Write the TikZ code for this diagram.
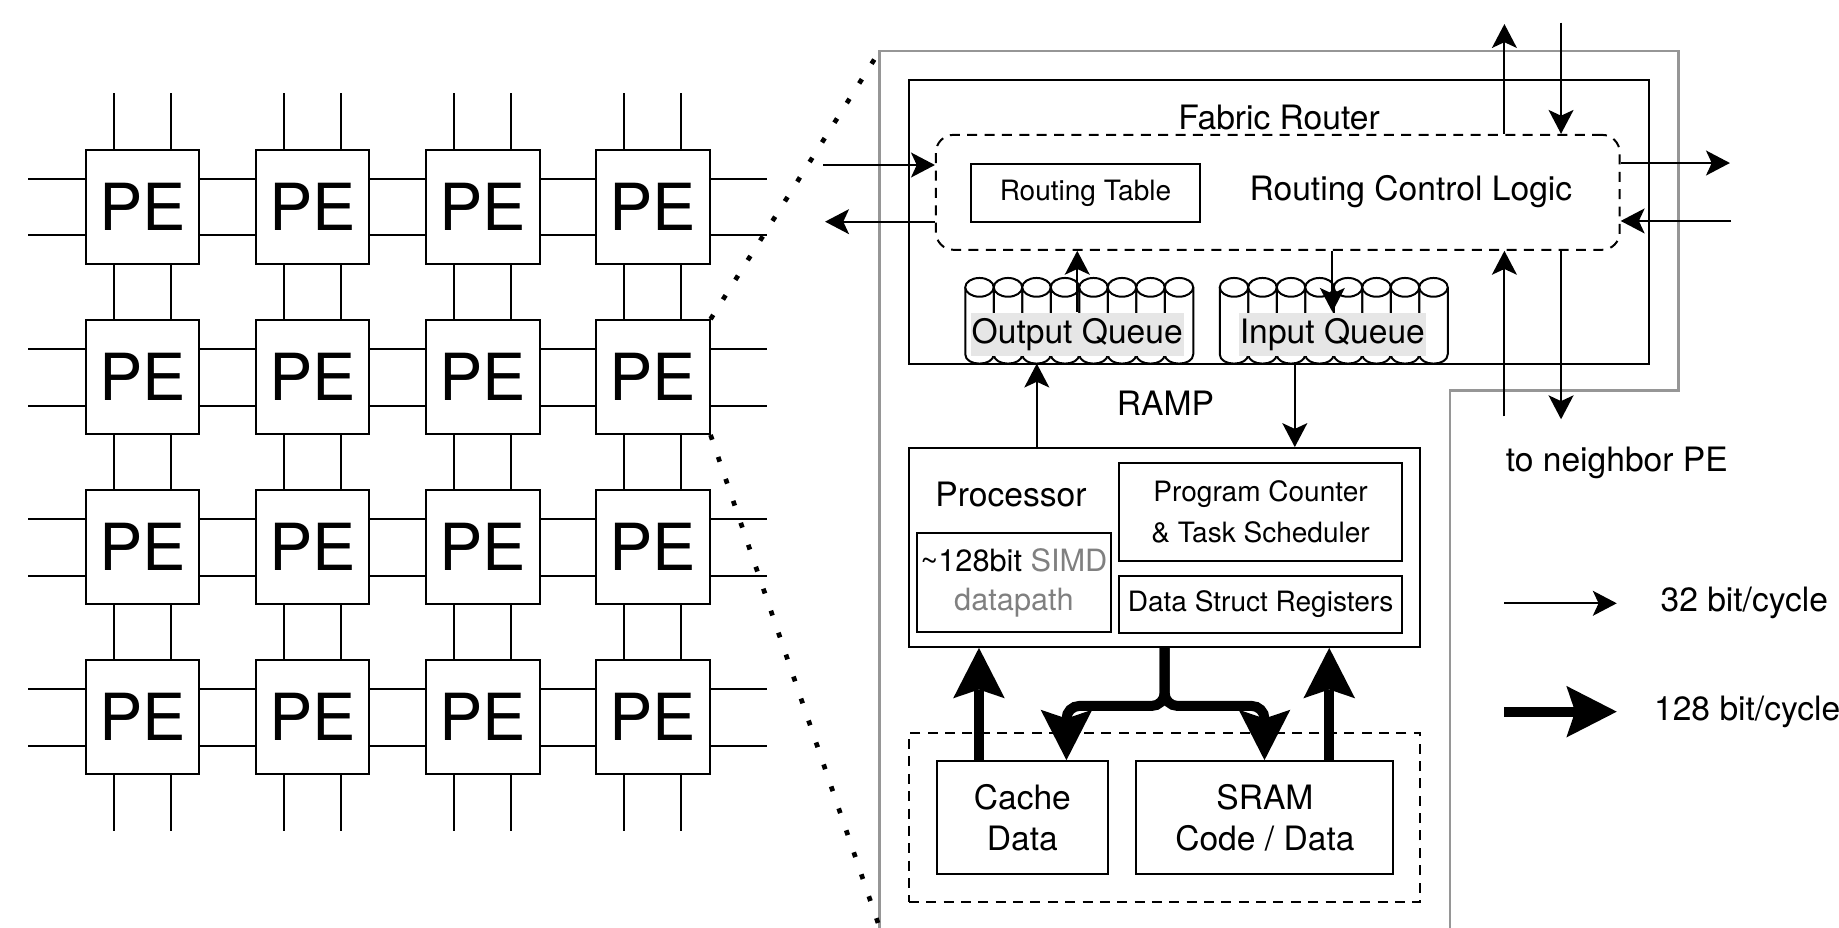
\documentclass[tikz,border=0pt]{standalone}
\usepackage{fontspec}
\setmainfont{TeX Gyre Heros}
\usepackage{tikz}
\usetikzlibrary{arrows.meta, positioning, calc}
\definecolor{tilegray}{RGB}{150, 150, 150}
\definecolor{queuefill}{RGB}{230, 230, 230}
\definecolor{dimtext}{RGB}{128, 128, 128}

\begin{document}
\begin{tikzpicture}[
    x=0.2mm, y=-0.2mm, line width=0.34mm,
    txt/.style={inner sep=0pt, align=center, font=\fontsize{16.3}{19.8}\selectfont},
    pe/.style={rectangle, draw, fill=white, inner sep=0pt, minimum size=19.4mm, font=\fontsize{31.5}{36}\selectfont},
    block/.style={rectangle, draw, inner sep=0pt, align=center, font=\fontsize{16.3}{19.8}\selectfont},
    subblock/.style={block, font=\fontsize{13.6}{20.2}\selectfont},
    dashedbox/.style={rectangle, draw, dash pattern=on 1.7mm off 1.26mm},
    qlabel/.style={fill=queuefill, inner xsep=0.2mm, inner ysep=0pt, minimum height=7.3mm, font=\fontsize{16.3}{19.8}\selectfont},
    arrow/.style={-{Stealth[length=4.1mm, width=4.3mm, inset=1mm, line width=0pt]}},
    fat/.style={line width=1.7mm, -{Stealth[length=8.6mm, width=8.8mm, inset=1.5mm, line width=0pt]}},
    zoomline/.style={line width=0.8mm, dash pattern=on 0.86mm off 3.1mm}
]
    \useasboundingbox (0,0) rectangle (1568,791);

    \foreach \r in {1,...,4} {
        \foreach \c in {1,...,4} {
            \node (pe-\r-\c) [pe] at ({121.5+145*(\c-1)}, {176.5+145*(\r-1)}) {PE};
            \foreach \d in {-24.25, 24.25} {
                \draw ($(pe-\r-\c.north)+(\d,0)$) -- ++(0,-48);
                \draw ($(pe-\r-\c.south)+(\d,0)$) -- ++(0,48);
                \draw ($(pe-\r-\c.west)+(0,\d)$) -- ++(-48,0);
                \draw ($(pe-\r-\c.east)+(0,\d)$) -- ++(48,0);
            }
        }
    }

    \coordinate (tile-nw) at (750,43.5);
    \coordinate (tile-sw) at (750,791);
    \draw [tilegray, line width=0.42mm] (tile-sw) -- (tile-nw) -- (1431,43.5) -- (1431,333) -- (1236.5,333) -- (1236.5,791);
    \draw [zoomline] (pe-2-4.north east) -- (tile-nw);
    \draw [zoomline] (pe-2-4.south east) -- (tile-sw);

    \foreach \qx in {823, 1040} {
        \foreach \k in {0,...,7} {
            \pgfmathsetmacro{\cx}{\qx+24.3*\k}
            \draw [fill=white] (\cx,245) -- (\cx,302) .. controls (\cx,312.7) and (\cx+24.3,312.7) .. (\cx+24.3,302) -- (\cx+24.3,245);
            \draw [fill=white] (\cx+12.15,245) ellipse [x radius=12.15, y radius=8];
        }
    }
    \node (outq) [qlabel] at (918.5,285) {Output Queue};
    \node (inq) [qlabel] at (1136,285) {Input Queue};

    \node (router) [block, minimum width=126.2mm, minimum height=48.4mm] at (1090.5,189) {};
    \node (router-title) [txt] at (1090.5,100) {Fabric Router};
    \node (logic) [dashedbox, rounded corners=3mm, minimum width=116.6mm, minimum height=19.6mm] at (1089.5,164) {};
    \node (rtable) [subblock, minimum width=39mm, minimum height=9.8mm] at (925.5,164.5) {Routing Table};
    \node (logic-title) [txt] at (1203,163) {Routing Control Logic};
    \node (ramp) [txt] at (993.7,344) {RAMP};

    \node (proc) [block, minimum width=87.2mm, minimum height=33.9mm] at (993,466.8) {};
    \node (proc-title) [txt] at (862,422) {Processor};
    \node (simd) [block, minimum width=33mm, minimum height=16.9mm, font=\fontsize{14.9}{18.5}\selectfont] at (864.5,497) {\textasciitilde128bit \textcolor{dimtext}{SIMD}\\\textcolor{dimtext}{datapath}};
    \node (pc) [subblock, minimum width=48.3mm, minimum height=16.7mm] at (1074.8,436.3) {Program Counter\\\& Task Scheduler};
    \node (dsr) [subblock, minimum width=48.3mm, minimum height=9.7mm] at (1074.8,515.3) {Data Struct Registers};

    \node (mem) [dashedbox, minimum width=87.2mm, minimum height=28.8mm] at (993,697) {};
    \node (cache) [block, minimum width=29.1mm, minimum height=19.2mm] at (871.7,697) {Cache\\Data};
    \node (sram) [block, minimum width=43.8mm, minimum height=19.2mm] at (1078.5,697) {SRAM\\Code / Data};

    \coordinate (w-in) at (702,140.7);
    \coordinate (w-out) at (703.5,189);
    \coordinate (e-out) at (1475,139);
    \coordinate (e-in) at (1476,188.4);
    \coordinate (n-out) at (1282.7,20.5);
    \coordinate (n-in) at (1331,19.3);
    \coordinate (s-in) at (1282.7,355);
    \coordinate (s-out) at (1331,357.5);
    \draw [arrow] (w-in) -- (w-in -| logic.west);
    \draw [arrow] (w-out -| logic.west) -- (w-out);
    \draw [arrow] (e-out -| logic.east) -- (e-out);
    \draw [arrow] (e-in) -- (e-in -| logic.east);
    \draw [arrow] (n-out |- logic.north) -- (n-out);
    \draw [arrow] (n-in) -- (n-in |- logic.north);
    \draw [arrow] (s-in) -- (s-in |- logic.south);
    \draw [arrow] (s-out |- logic.south) -- (s-out);
    \node (neighbor) [txt] at (1378.5,395) {to neighbor PE};

    \coordinate (outq-in) at (884,310);
    \coordinate (inq-out) at (1104,310);
    \draw [arrow] (outq.north) -- (outq.north |- logic.south);
    \draw [arrow] (inq.north |- logic.south) -- (inq.north);
    \draw [arrow] (outq-in |- proc.north) -- (outq-in);
    \draw [arrow] (inq-out) -- (inq-out |- proc.north);

    \coordinate (cache-up) at ($(cache.north west)+(36.6,0)$);
    \coordinate (cache-dn) at ($(cache.north east)+(-36,0)$);
    \coordinate (sram-dn) at ($(sram.north west)+(110,0)$);
    \coordinate (sram-up) at ($(sram.north east)+(-55.5,0)$);
    \coordinate (split) at ($(proc.south)+(0,49.5)$);
    \draw [fat] (cache-up) -- (cache-up |- proc.south);
    \draw [fat] (sram-up) -- (sram-up |- proc.south);
    \draw [fat, rounded corners=2.2mm] (proc.south) -- (split) -| (cache-dn);
    \draw [fat, rounded corners=2.2mm] (proc.south) -- (split) -| (sram-dn);

    \coordinate (thin-a) at (1282.7,514.4);
    \coordinate (thin-b) at (1378.5,514.4);
    \coordinate (fat-a) at (1282.7,606.8);
    \coordinate (fat-b) at (1378.5,606.8);
    \draw [arrow] (thin-a) -- (thin-b);
    \draw [fat] (fat-a) -- (fat-b);
    \node (thin-key) [txt, anchor=west, right=7.3mm of thin-b] {32 bit/cycle};
    \node (fat-key) [txt, anchor=west, right=6.2mm of fat-b] {128 bit/cycle};
\end{tikzpicture}
\end{document}
